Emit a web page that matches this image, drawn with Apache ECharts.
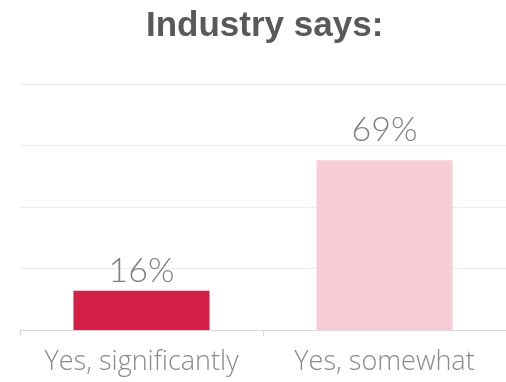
<!DOCTYPE html>
<html><head><meta charset="utf-8">
<script src="https://cdn.jsdelivr.net/npm/echarts@6/dist/echarts.min.js"></script>
<style>html,body{margin:0;padding:0;background:#fff}#c{width:506px;height:382px}</style>
</head><body><div id="c"></div>
<script>
const categories = ["Yes, significantly", "Yes, somewhat"];
const values = [16, 69];
const barColors = ["#D41F47", "#F6CDD7"];
const labelOffsets = [[0, 2], [0, -8]];

const chart = echarts.init(document.getElementById('c'), null, {renderer: 'canvas'});
chart.setOption({
  animation: false,
  title: {
    text: "Industry says:", left: 141, top: 4,
    textStyle: {fontFamily: 'Liberation Sans', fontWeight: 'bold', fontSize: 35, color: '#595959'}
  },
  grid: {left: 20, right: -2, top: 84, bottom: 52, containLabel: false},
  xAxis: {
    type: 'category', data: categories,
    axisLine: {lineStyle: {color: '#d9d9d9', width: 1}},
    axisTick: {show: true, interval: 0, length: 6, lineStyle: {color: '#d9d9d9'}},
    axisLabel: {interval: 0, hideOverlap: false, fontFamily: 'Open Sans', fontWeight: 300, fontSize: 27, color: '#8a8a8a', margin: 19}
  },
  yAxis: {
    type: 'value', min: 0, max: 100, interval: 25,
    axisLabel: {show: false}, axisLine: {show: false}, axisTick: {show: false},
    splitLine: {lineStyle: {color: '#ececec', width: 1}}
  },
  series: [{
    type: 'bar', barWidth: '56%',
    data: values.map((v, i) => ({
      value: v,
      itemStyle: {color: barColors[i]},
      label: {offset: labelOffsets[i]}
    })),
    label: {
      show: true, position: 'top', formatter: '{c}%',
      fontFamily: 'Lato', fontWeight: 300, fontSize: 34, color: '#7f7f7f'
    }
  }]
});
</script></body></html>
